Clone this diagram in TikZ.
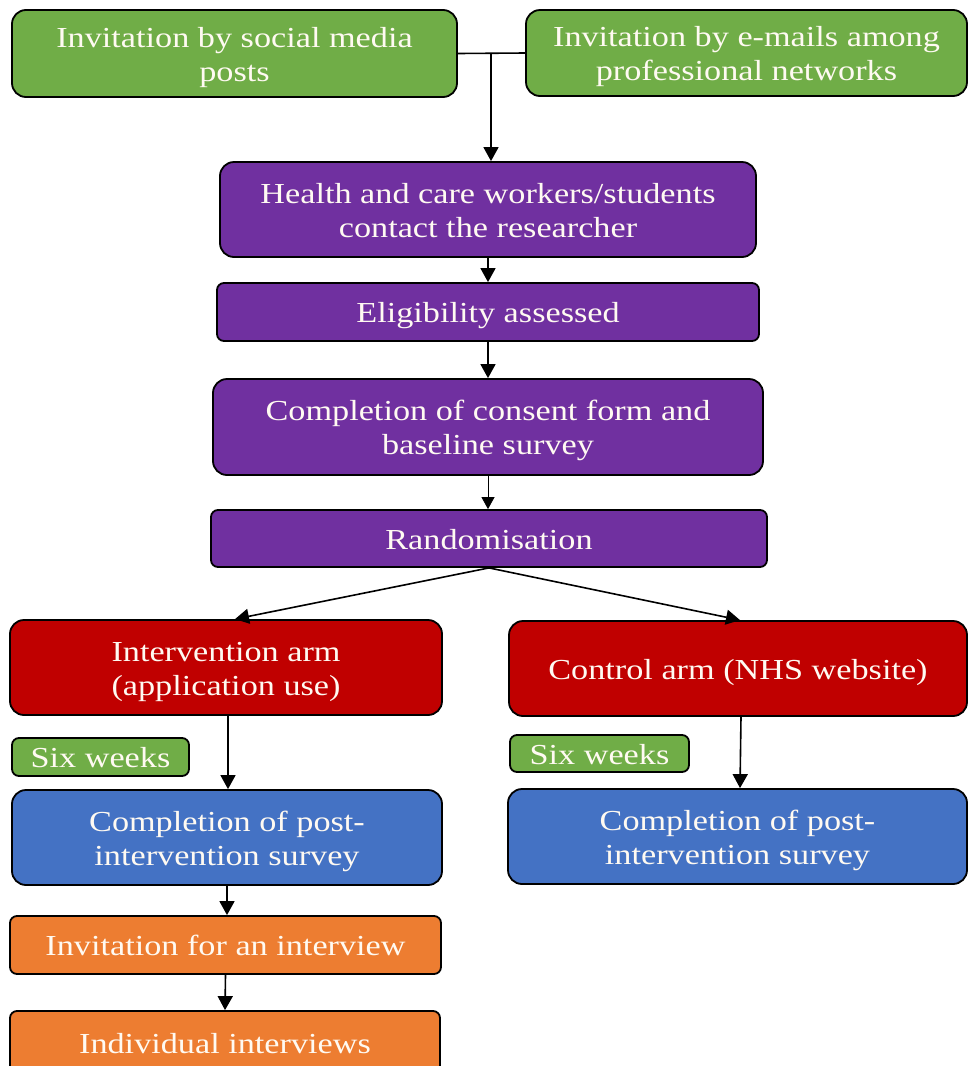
\documentclass[tikz,border=0pt]{standalone}
\usepackage{fontspec}
\setmainfont{Liberation Serif}[FakeStretch=1.18]
\usetikzlibrary{arrows.meta}
\definecolor{cgreen}{HTML}{70AD47}
\definecolor{cpurple}{HTML}{7030A0}
\definecolor{cred}{HTML}{C00000}
\definecolor{cblue}{HTML}{4472C4}
\definecolor{corange}{HTML}{ED7D31}
\definecolor{ctext}{HTML}{FFFAF2}
\newcommand\bt[1]{\raisebox{-4pt}[\height][\depth]{\begin{tabular}{@{}c@{}}#1\end{tabular}}}
\tikzset{
  box/.style={draw=black, line width=1.8pt, rounded corners=14pt, text=ctext,
    align=center, inner sep=0pt, font=\fontsize{29}{34}\selectfont},
  slim/.style={box, rounded corners=7pt},
  arr/.style={line width=1.6pt, -{Triangle[width=15pt,length=14pt]}},
  thinarr/.style={line width=0.8pt, -{Triangle[width=13pt,length=12pt]}},
}
\begin{document}
\begin{tikzpicture}[x=1pt,y=-1pt]
\useasboundingbox (0,0) rectangle (969,1066);
\node[box, fill=cgreen, minimum width=445, minimum height=87] (social) at (234.5,53.5) {\bt{Invitation by social media\\posts}};
\node[box, fill=cgreen, minimum width=441, minimum height=86] (email) at (746.5,53) {\bt{Invitation by e-mails among\\professional networks}};
\node[box, fill=cpurple, minimum width=536, minimum height=95] (health) at (488,209.5) {\bt{Health and care workers/students\\contact the researcher}};
\node[slim, fill=cpurple, minimum width=542, minimum height=58] (elig) at (488,312) {\bt{Eligibility assessed}};
\node[box, fill=cpurple, minimum width=550, minimum height=96] (consent) at (488,427) {\bt{Completion of consent form and\\baseline survey}};
\node[slim, fill=cpurple, minimum width=556, minimum height=57] (random) at (489,538.5) {\bt{Randomisation}};
\node[box, fill=cred, minimum width=432, minimum height=95] (interv) at (226,667.5) {\bt{Intervention arm\\(application use)}};
\node[box, fill=cred, minimum width=458, minimum height=95] (control) at (738,668.5) {\bt{Control arm (NHS website)}};
\node[slim, fill=cgreen, minimum width=177, minimum height=38] (sixa) at (100.5,757) {\bt{Six weeks}};
\node[box, fill=cblue, minimum width=430, minimum height=95] (posta) at (227,837.5) {\bt{Completion of post-\\intervention survey}};
\node[slim, fill=cgreen, minimum width=179, minimum height=37] (sixb) at (599.5,753.5) {\bt{Six weeks}};
\node[box, fill=cblue, minimum width=459, minimum height=95] (postb) at (737.5,836.5) {\bt{Completion of post-\\intervention survey}};
\node[slim, fill=corange, minimum width=431, minimum height=58] (invint) at (225.5,945) {\bt{Invitation for an interview}};
\node[slim, fill=corange, minimum width=430, minimum height=64] (indiv) at (225,1043) {\bt{Individual interviews}};
% connectors
\draw[line width=1.6pt] (social.east) -- (email.west);
\coordinate (join) at (491,53);
\draw[arr] (join) -- (join |- health.north);
\draw[arr] (health.south) -- (elig.north);
\draw[arr] (elig.south) -- (consent.north);
\draw[thinarr] (consent.south) -- (consent.south |- random.north);
\draw[arr] (random.south) -- ([xshift=9pt]interv.north);
\draw[arr] (random.south) -- ([xshift=2pt]control.north);
\draw[arr] ([xshift=2pt]interv.south) -- ([xshift=1pt]posta.north);
\draw[arr] ([xshift=3pt]control.south) -- ([xshift=2.5pt]postb.north);
\draw[arr] (posta.south) -- ([xshift=1.5pt]invint.north);
\draw[arr] (invint.south) -- (indiv.north);
\end{tikzpicture}
\end{document}
